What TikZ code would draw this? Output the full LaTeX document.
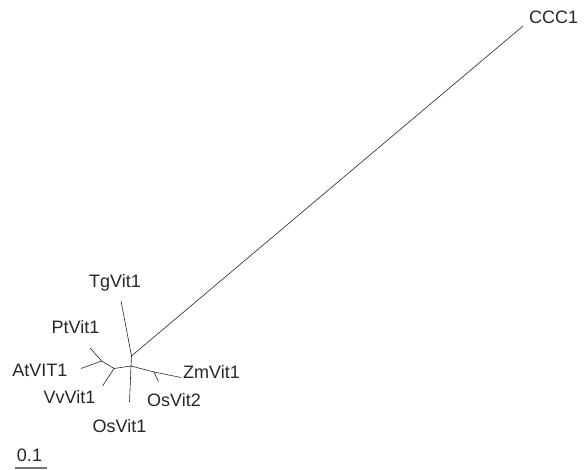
\documentclass[tikz,border=0pt]{standalone}
\usepackage{fontspec}
\setmainfont{Liberation Sans}
\begin{document}
\begin{tikzpicture}[x=1pt,y=-1pt,
  br/.style={draw=black!85,line width=0.6pt},
  lab/.style={text=black!85,font=\fontsize{18}{21}\selectfont,inner sep=0pt}]
\useasboundingbox (0,0) rectangle (584,470);
% tree vertices
\coordinate (c) at (131,366);
\coordinate (j) at (131.5,356);
\coordinate (tg) at (121,301);
\coordinate (ccc) at (523,26);
\coordinate (os1) at (129.5,402);
\coordinate (l1) at (114,368.5);
\coordinate (l2) at (101.7,361);
\coordinate (pt) at (90,348);
\coordinate (at) at (81,368.5);
\coordinate (vv) at (102.5,386);
\coordinate (r1) at (154,372);
\coordinate (zm) at (181,377.5);
\coordinate (os2) at (158.5,381.5);
% branches
\draw[br] (j) -- (tg);
\draw[br] (j) -- (ccc);
\draw[br] (j) -- (c);
\draw[br] (c) -- (os1);
\draw[br] (c) -- (l1);
\draw[br] (l1) -- (l2);
\draw[br] (l2) -- (pt);
\draw[br] (l2) -- (at);
\draw[br] (l1) -- (vv);
\draw[br] (c) -- (r1);
\draw[br] (r1) -- (zm);
\draw[br] (r1) -- (os2);
% labels
\node[lab,anchor=west] (lccc) at (529,17.5) {CCC1};
\node[lab] (ltg) at (115,283) {TgVit1};
\node[lab,anchor=east] (lpt) at (99.5,327.5) {PtVit1};
\node[lab,anchor=east] (lat) at (67.5,370) {AtVIT1};
\node[lab,anchor=east] (lvv) at (95.5,397) {VvVit1};
\node[lab] (los1) at (119.5,426) {OsVit1};
\node[lab,anchor=west] (los2) at (147,400) {OsVit2};
\node[lab,anchor=west] (lzm) at (183,372.5) {ZmVit1};
\node[lab] (lscale) at (29.5,455) {0.1};
\coordinate (sb1) at (15,468);
\coordinate (sb2) at (47,468);
\draw[draw=black!55,line width=1.2pt] (sb1) -- (sb2);
\end{tikzpicture}
\end{document}
